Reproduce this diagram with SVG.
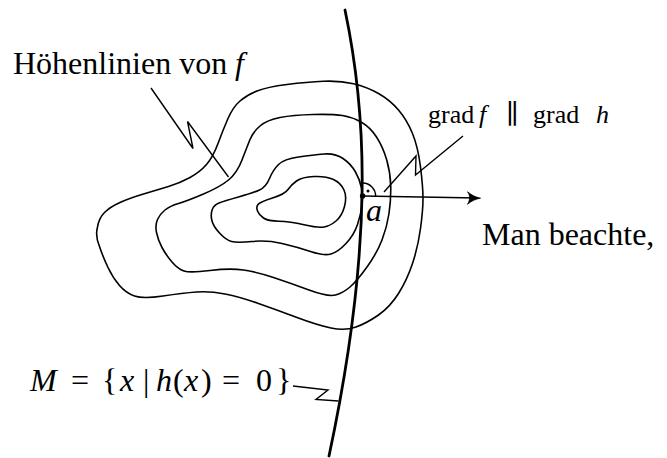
<svg xmlns="http://www.w3.org/2000/svg" width="667" height="458" viewBox="0 0 667 458">
<style>
.t{font-family:"Liberation Serif","Times New Roman",serif;font-size:32px;fill:#000}
.s{font-size:26px}
.i{font-style:italic}
.c{fill:none;stroke:#000;stroke-width:1.6;stroke-linejoin:round}
.m{fill:none;stroke:#000;stroke-width:2.8;stroke-linecap:round}
.l{fill:none;stroke:#000;stroke-width:1.4;stroke-linejoin:miter}
</style>
<rect width="667" height="458" fill="#fff"/>
<g id="contours">
<path id="contour1" class="c" d="M99.5,246.5 Q95,236 97.5,227 Q99,218 104.5,212.5 Q110,207 120,202.5 Q130,198 143.5,194 Q157,190 168.5,186.5 Q180,183 190,177.5 Q200,172 206.5,164.5 Q213,157 218,143.5 Q223,130 228,118.5 Q233,107 240,101 Q247,95 257,91 Q267,87 287,84.5 Q307,82 323.5,81.25 Q340,80.5 353.5,83.75 Q367,87 378.5,93.5 Q390,100 398.5,110 Q407,120 412.5,133.5 Q418,147 420.5,167 Q423,187 423,198.5 Q423,210 420.5,228.5 Q418,247 412.5,263.5 Q407,280 398.5,293.5 Q390,307 378.5,315 Q367,323 356,327 Q345,331 331,328 Q317,325 297,317.5 Q277,310 258.5,303.5 Q240,297 225,294 Q210,291 196.5,292 Q183,293 163,296 Q143,299 134.5,296 Q126,293 119.5,285.5 Q113,278 108,267.5 Q103,257 99.5,246.5 Z"/>
<path id="contour2" class="c" d="M156.5,232.5 Q155,225 157.5,219.5 Q160,214 165,210 Q170,206 178.5,203.5 Q187,201 203.5,194 Q220,187 228.5,180 Q237,173 242,160 Q247,147 250,139.5 Q253,132 260,126 Q267,120 280,117.5 Q293,115 313,114.5 Q333,114 342.5,115.5 Q352,117 361,122 Q370,127 376.5,137 Q383,147 386.75,160 Q390.5,173 390.75,186.5 Q391,200 389,213.5 Q387,227 382,240 Q377,253 367,267 Q357,281 350,287 Q343,293 335.5,295 Q328,297 309,290 Q290,283 273.5,277.5 Q257,272 243.5,270 Q230,268 210,270.5 Q190,273 184,271 Q178,269 172,262 Q166,255 162,247.5 Q158,240 156.5,232.5 Z"/>
<path id="contour3" class="c" d="M211.75,220 Q210.5,214 212.25,209.5 Q214,205 219,203 Q224,201 238.5,197 Q253,193 259.5,190 Q266,187 269.5,178.5 Q273,170 278.5,164.5 Q284,159 298.5,157 Q313,155 324,154 Q335,153 343,158.5 Q351,164 355.5,172 Q360,180 361.5,188 Q363,196 362,205 Q361,214 357.5,224.5 Q354,235 346,243.5 Q338,252 331,254 Q324,256 310.5,251.5 Q297,247 282,243.5 Q267,240 252,241.5 Q237,243 231.5,241.5 Q226,240 219.5,233 Q213,226 211.75,220 Z"/>
<path id="contour4" class="c" d="M257.5,211 Q256,207 258,204.5 Q260,202 272.5,198 Q285,194 288,189.5 Q291,185 296.5,181 Q302,177 314,176.5 Q326,176 333.5,179.5 Q341,183 344,190 Q347,197 344.5,206.5 Q342,216 336,221 Q330,226 324,227 Q318,228 304,224.75 Q290,221.5 279,221.25 Q268,221 263.5,218 Q259,215 257.5,211 Z"/>
</g>
<g id="manifold">
<path class="m" d="M345,10 C366,110 375,240 329,456"/>
</g>
<g id="point-a">
<path class="l" d="M362.8,183 A13,13 0 0 1 375.6,196.2"/>
<circle cx="368" cy="191" r="1.5" fill="#000"/>
<circle cx="362.6" cy="196" r="2.7" fill="#000"/>
<text class="t i" x="366" y="221">a</text>
</g>
<g id="connectors">
<path class="l" d="M151,88 L193,148.5 L187.5,121.5 L228.5,177"/>
<path class="l" d="M463,136 L415.5,175 L416,156 L384,192"/>
<path class="l" d="M293,386 L328,390 L316,399.5 L338.5,401"/>
<path class="l" d="M362.6,196 L478,198"/>
<path d="M467.5,191.8 C471.5,195.2 475.5,197.2 480.5,198.2 C475.5,199 471.5,201 467.5,204.2 C470,201 470.5,195 467.5,191.8 Z" fill="#000" stroke="#000" stroke-width="0.8"/>
</g>
<g id="label-hoehenlinien">
<text class="t" x="13" y="74">Höhenlinien von <tspan class="i" x="235">f</tspan></text>
</g>
<g id="label-grad">
<text class="t s" y="123"><tspan x="428">grad</tspan><tspan class="i" x="479">f</tspan><tspan x="506" font-family="DejaVu Serif,serif" font-size="27">∥</tspan><tspan x="533">grad</tspan><tspan class="i" x="596">h</tspan></text>
</g>
<g id="label-beachte">
<text class="t" x="482" y="245">Man beachte,</text>
</g>
<g id="label-M">
<text class="t" y="391"><tspan class="i" x="30">M</tspan><tspan x="71">=</tspan><tspan x="102">{</tspan><tspan class="i" x="120">x</tspan><tspan x="143">|</tspan><tspan class="i" x="156">h</tspan><tspan x="173">(</tspan><tspan class="i" x="184">x</tspan><tspan x="201">)</tspan><tspan x="222">=</tspan><tspan x="256">0</tspan><tspan x="276">}</tspan></text>
</g>
</svg>
